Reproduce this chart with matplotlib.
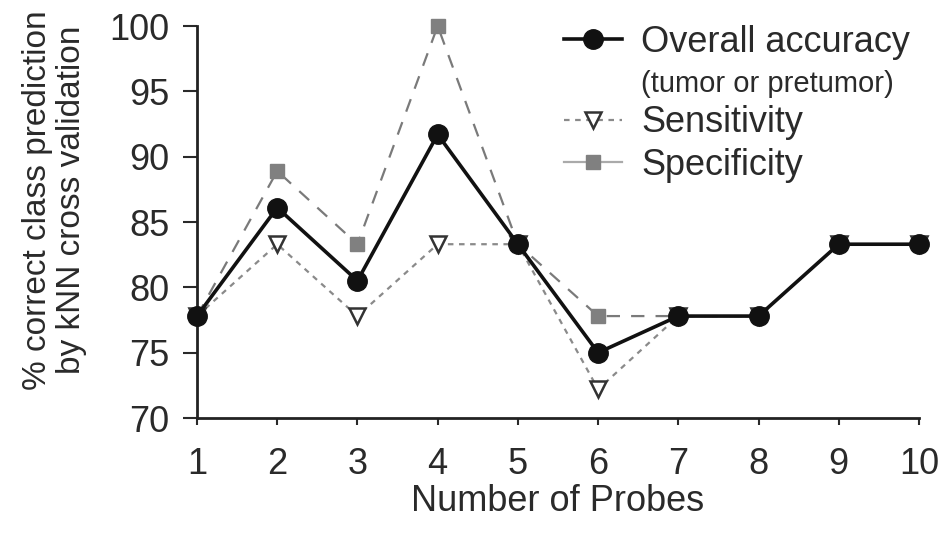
import matplotlib
matplotlib.use("Agg")
import matplotlib.pyplot as plt
from matplotlib.lines import Line2D

probes = [1, 2, 3, 4, 5, 6, 7, 8, 9, 10]
overall = [77.8, 86.1, 80.5, 91.7, 83.3, 75.0, 77.8, 77.8, 83.3, 83.3]
sensitivity = [77.8, 83.3, 77.8, 83.3, 83.3, 72.2, 77.8, 77.8, 83.3, 83.3]
specificity = [77.8, 88.9, 83.3, 100.0, 83.3, 77.8, 77.8, 77.8, 83.3, 83.3]
yticks = [70, 75, 80, 85, 90, 95, 100]

plt.rcParams['font.family'] = ['Liberation Sans', 'DejaVu Sans']
txt = '#2a2a2a'

fig = plt.figure(figsize=(9.43, 5.38), dpi=100)
ax = fig.add_axes([197 / 943, 1 - 418 / 538, (919 - 197) / 943, (418 - 26) / 538])

# sensitivity: short dashes, open triangles
ax.plot(probes, sensitivity, color='#8a8a8a', lw=1.6, ls=(0, (2.5, 2.5)),
        marker='v', ms=12, mfc='white', mec='#333333', mew=1.8, clip_on=False, zorder=3)
# specificity: long dashes, gray squares
ax.plot(probes, specificity, color='#7a7a7a', lw=1.6, ls=(0, (6, 5)),
        marker='s', ms=10, mfc='#808080', mec='#808080', clip_on=False, zorder=4)
# overall accuracy
ax.plot(probes, overall, color='#111111', lw=2.6,
        marker='o', ms=14, mfc='#111111', mec='#111111', clip_on=False, zorder=5)

ax.set_xlim(1, 10)
ax.set_ylim(70, 100)
ax.set_xticks(probes)
ax.set_yticks(yticks)
ax.tick_params(labelsize=26, width=1.5, colors=txt, direction='out')
ax.tick_params(axis='x', length=5, pad=16)
ax.tick_params(axis='y', length=10, pad=10)
for s in ['top', 'right']:
    ax.spines[s].set_visible(False)
for s in ['left', 'bottom']:
    ax.spines[s].set_linewidth(2)
    ax.spines[s].set_color('#222222')

ax.set_xlabel('Number of Probes', fontsize=26, color=txt, labelpad=1)
ax.set_ylabel('% correct class prediction\nby kNN cross validation', fontsize=24,
              color=txt, linespacing=1.12)
ax.yaxis.set_label_coords(-0.153, 0.556)

handles = [
    Line2D([], [], color='#111111', lw=2.6, marker='o', ms=14),
    Line2D([], [], color='none'),
    Line2D([], [], color='#8a8a8a', lw=1.6, ls=(0, (2.5, 2.5)), marker='v', ms=12,
           mfc='white', mec='#333333', mew=1.8),
    Line2D([], [], color='#aaaaaa', lw=1.6, marker='s', ms=10, mfc='#808080', mec='#808080'),
]
labels = ['Overall accuracy', '(tumor or pretumor)', 'Sensitivity', 'Specificity']
leg = ax.legend(handles, labels, loc='upper left', bbox_to_anchor=(0.488, 1.04),
                frameon=False, fontsize=26, handlelength=1.6, handletextpad=0.55,
                labelspacing=0.2, borderaxespad=0)
for t in leg.get_texts():
    t.set_color(txt)
leg.get_texts()[1].set_fontsize(21)

fig.savefig('out.png', dpi=100)
